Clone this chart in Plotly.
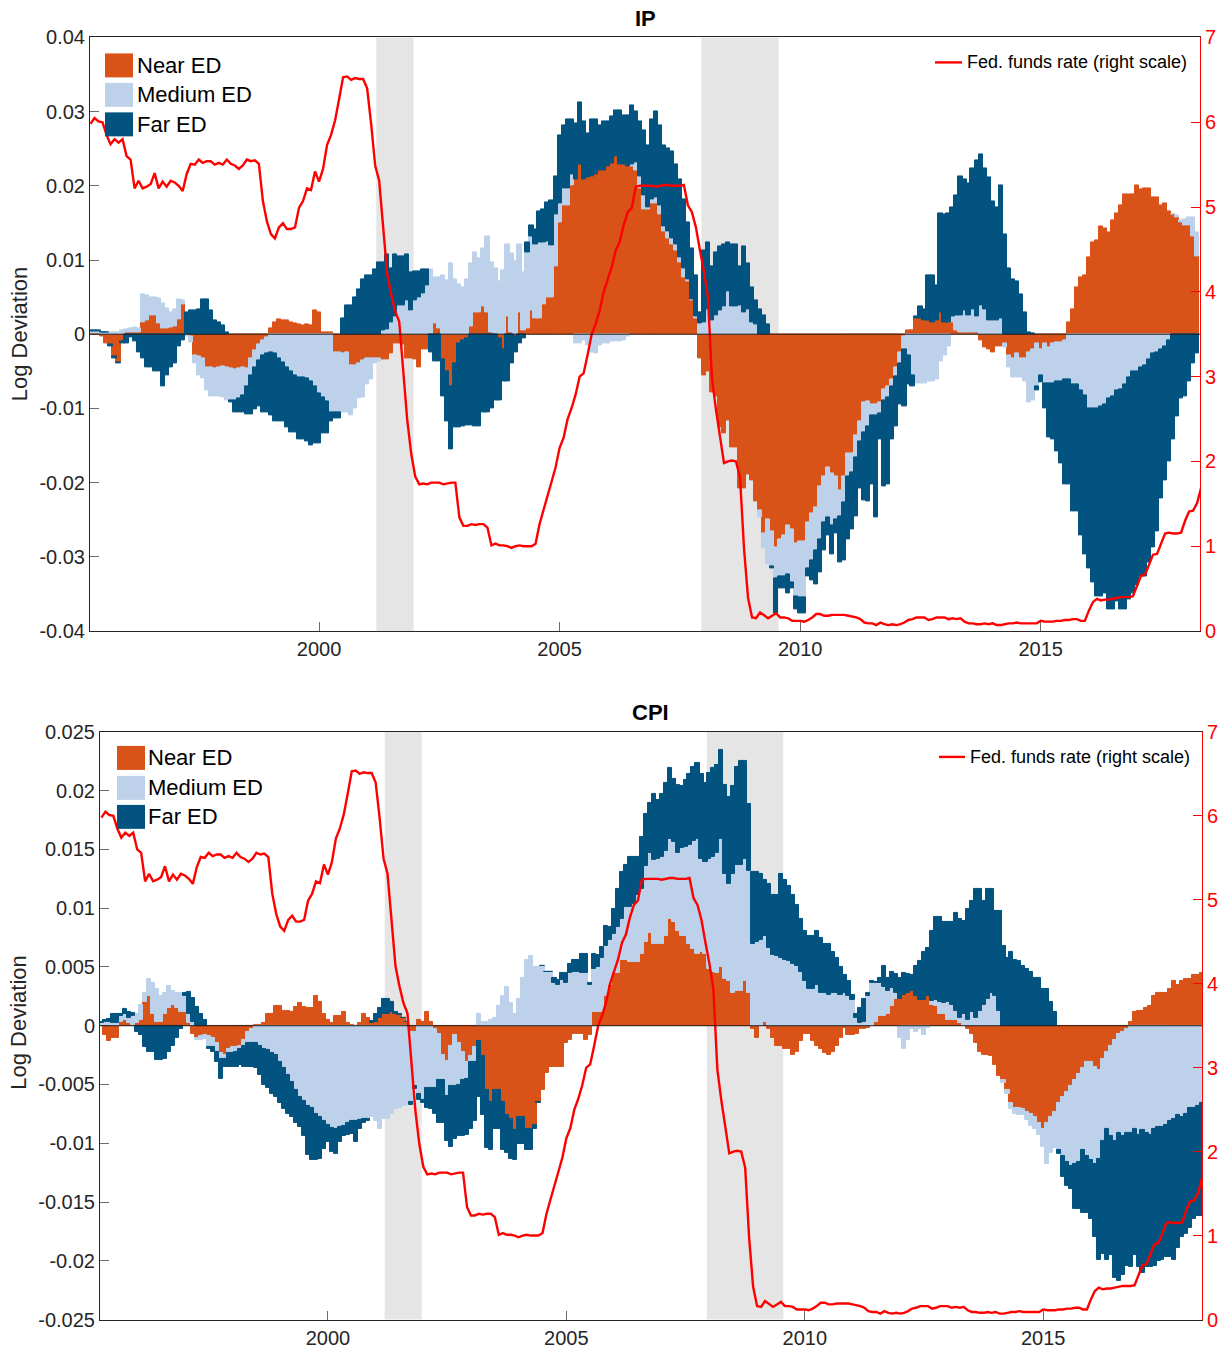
import plotly.graph_objects as go

W, H = 1229, 1354
# vertical extent of the paper area on the page (px from top)
PAPER_TOP, PAPER_BOTTOM = 9.56, 1342.5

# Monthly observations, first one is March 1995 (plotted at year + month/12)
START_YEAR, START_MONTH = 1995, 3

# Contributions to log deviation, in thousandths
ip_near = [
    0.1, 0.1, 0.1, -0.3, -1.2, -1.4, -3.0, -3.8, -1.0, 0.2, 0.3, 0.3, 0.2, 1.6, 1.8, 2.6, 2.5, 1.4, 0.8, 0.8, 0.9, 1.0,
    2.0, 4.0, 0.0, -0.3, -2.9, -3.0, -3.2, -4.5, -4.5, -4.6,
    -4.5, -4.4, -4.5, -4.6, -4.7, -4.6, -4.5, -4.6, -3.2, -2.2,
    -1.4, -0.8, -0.4, 0.8, 1.6, 2.0, 1.9, 1.8, 1.6, 1.5,
    1.3, 1.2, 1.3, 1.2, 3.2, 3.0, 0.3, 0.3, 0.2, -2.4,
    -2.4, -2.6, -2.5, -4.2, -4.2, -4.0, -3.5, -3.3, -3.2, -3.2,
    -3.2, -3.4, -3.4, -2.6, -1.3, -1.3, -1.4, -3.2, -3.2, -3.4,
    -4.5, -2.0, -2.1, 0.0, 1.5, 0.8, -3.4, -5.0, -7.1, -3.9,
    -1.3, -0.8, -0.5, 1.0, 2.9, 2.9, 3.7, 2.9, 0.3, 0.0,
    -0.5, -2.1, 2.4, 0.3, -0.3, 2.9, 0.5, 0.8, 3.2, 2.1,
    2.1, 4.0, 5.0, 5.0, 9.2,
    15.0, 17.4, 17.4, 20.0, 20.8, 22.9, 20.8, 21.1, 21.3, 21.6,
    22.1, 22.1, 22.6, 23.0, 24.0, 22.9, 22.9, 22.6, 22.6, 22.1,
    19.7, 16.8, 16.8, 17.6, 17.6, 16.1, 13.9, 12.9, 12.1, 11.3,
    9.7, 7.6, 7.1, 4.5, 2.1, -3.2, -5.5, -5.0, -7.9, -8.4,
    -12.6, -13.4, -11.6, -15.3, -15.3, -20.8, -20.8, -18.9, -19.7, -22.6,
    -23.7, -26.8, -25.0, -26.6, -28.7, -27.6, -27.1, -25.8, -26.3, -28.2,
    -27.9, -27.9, -25.3, -24.2, -23.4, -20.5, -19.2, -17.9, -18.7, -19.2,
    -21.1, -19.2, -16.1, -16.1, -13.7, -11.8, -9.2, -9.0, -9.5, -9.5,
    -9.2, -7.4, -7.0, -6.1, -4.5, -2.4, -0.3, 0.5, 0.5, 2.1,
    2.1, 1.8, 1.8, 1.6, 1.8,
    2.9, 1.6, 1.6, 1.6, 0.5, 0.3, 0.3, 0.2, 0.2, 0.3,
    -0.8, -1.8, -2.1, -2.4, -1.6, -1.6, -1.3, -2.9, -3.2, -2.6,
    -3.2, -3.2, -2.4, -2.1, -1.3, -2.1, -1.3, -1.8, -1.3, -1.1,
    -1.1, -0.8, 1.6, 3.4, 6.3, 7.6, 7.9, 10.4, 12.4, 12.6,
    14.5, 14.2, 13.7, 15.3, 16.3, 17.4, 18.8, 18.9, 18.8, 20.1,
    19.5, 19.6, 19.7, 18.4, 18.4, 17.4, 17.6, 16.5, 16.1, 15.8,
    15.1, 14.7, 14.7, 13.2, 10.5,
]
ip_medium = [
    0.3, 0.3, 0.3, 0.3, 0.2, 0.2, 0.2, 0.3, 0.5, 0.5, 0.5, 0.6, 0.6, 3.7, 3.4, 2.4, 2.5, 3.4, 3.4, 2.7, 2.1, 2.4,
    2.7, 0.5, -0.3, -0.8, -1.1, -2.5, -2.8, -3.1, -3.9, -3.8,
    -3.9, -4.1, -4.4, -4.3, -4.2, -4.0, -3.7, -2.4, -2.3, -2.3,
    -2.1, -2.0, -2.2, -2.5, -2.6, -3.2, -3.8, -4.5, -5.0, -5.5,
    -5.8, -5.8, -6.0, -6.3, -7.0, -8.0, -8.5, -9.0, -10.5, -8.1,
    -8.2, -7.9, -8.1, -6.8, -5.8, -4.7, -5.0, -3.5, -2.9, -0.7,
    -0.5, 0.5, 0.6, 1.6, 2.4, 3.9, 3.9, 4.5, 3.2, 4.5,
    5.0, 5.5, 6.6, 8.7, 6.2, 6.9, 7.9, 7.2, 9.5, 7.4,
    6.7, 6.3, 7.4, 8.5, 8.1, 7.3, 7.9, 10.3, 9.4, 8.9,
    7.1, 8.6, 9.7, 10.6, 9.8, 9.2, 7.8, 10.2, 10.0, 10.0,
    10.3, 8.4, 7.5, 7.0, 6.9,
    2.6, 2.3, 2.3, 1.6, -1.3, -1.3, -0.8, -1.5, -2.4, -2.6,
    -1.5, -1.2, -1.3, -1.0, -1.0, -1.0, -0.8, -0.3, 0.3, 1.0,
    1.5, 1.9, 0.3, 0.6, 0.8, 1.3, 0.6, 1.0, 0.8, 0.8,
    0.6, 1.3, 0.3, 0.2, 0.3, 1.5, 1.6, 3.4, 1.8, 2.5,
    3.2, 3.7, 5.8, 3.7, 3.7, 3.9, 2.9, 3.4, 1.6, 1.3,
    -1.0, -2.1, -6.0, -4.7, -4.2, -5.0, -5.5, -6.6, -7.1, -7.1,
    -7.6, -7.6, -6.3, -6.3, -5.8, -7.1, -6.1, -6.8, -7.1, -5.8,
    -3.5, -3.5, -3.1, -2.5, -2.9, -2.7, -4.0, -3.4, -1.5, -1.5,
    -1.5, -1.5, -1.5, -1.0, -1.2, -1.5, -1.8, -2.9, -5.5, -6.6,
    -6.6, -6.6, -6.3, -6.3, -6.1,
    -3.7, -2.9, -1.6, 0.8, 2.1, 2.3, 2.9, 2.4, 3.2, 2.1,
    3.9, 3.4, 1.8, 1.8, 1.8, 2.1, -0.5, -1.6, -2.6, -3.2,
    -2.6, -3.1, -6.8, -6.8, -5.8, -3.4, -5.3, -4.8, -5.3, -5.2,
    -5.2, -5.3, -6.1, -6.8, -6.8, -7.6, -8.2, -10.0, -10.0, -10.0,
    -9.7, -9.5, -8.7, -8.4, -7.6, -7.4, -6.8, -5.8, -5.0, -5.0,
    -4.5, -4.2, -3.4, -2.6, -2.4, -2.1, -1.6, -0.8, 0.1, 0.2,
    0.3, 0.8, 1.0, 2.5, 3.2,
]
ip_far = [
    0.1, 0.1, 0.1, 0.0, 0.0, -0.3, -0.3, -0.2, -0.3, -1.3, -0.4, -1.0, -2.4, -3.2, -4.5, -4.5, -5.0, -5.0, -7.1, -5.5, -4.5, -4.0,
    -1.6, -0.8, 3.0, 3.2, 3.2, 3.4, 4.7, 4.7, 3.2, 1.8,
    1.6, 1.2, 0.3, -0.3, -1.6, -1.9, -2.3, -3.8, -5.3, -5.7,
    -6.2, -7.7, -7.9, -8.5, -9.2, -8.6, -8.0, -8.0, -8.2, -7.7,
    -8.4, -8.4, -8.5, -8.7, -7.7, -6.7, -4.9, -4.4, -1.3, -0.8,
    -0.7, 2.1, 3.9, 3.9, 5.0, 6.0, 7.4, 7.9, 7.9, 8.7,
    9.7, 9.2, 10.1, 7.3, 8.3, 6.6, 6.6, 6.2, 5.1, 4.0,
    3.5, 3.2, 2.2, -2.4, -3.7, -3.7, -5.0, -6.8, -8.4, -8.7,
    -11.3, -11.6, -11.8, -12.3, -12.4, -12.4, -10.5, -10.5, -10.0, -8.9,
    -8.4, -4.2, -6.3, -3.9, -2.1, -1.3, -0.5, 1.4, 1.5, 2.0,
    4.2, 4.4, 5.3, 6.0, 5.2,
    9.2, 8.5, 9.2, 7.3, 7.6, 8.4, 7.9, 6.0, 7.6, 7.3,
    6.1, 6.6, 6.1, 6.3, 6.1, 7.2, 6.6, 6.9, 7.9, 6.9,
    7.5, 8.7, 8.4, 10.7, 11.6, 10.8, 11.0, 11.1, 11.8, 10.8,
    10.5, 9.3, 7.6, 6.8, 5.5, 1.5, 9.7, 9.0, 7.4, 8.5,
    8.6, 8.4, 6.6, 8.4, 8.4, 5.3, 8.9, 6.1, 4.7, 3.2,
    3.4, 2.6, 1.3, -0.2, -4.7, -1.6, -1.6, -2.6, -0.8, -1.8,
    -2.1, -2.1, -1.0, -2.7, -4.5, -4.5, -3.9, -2.4, -3.9, -1.8,
    -6.2, -7.8, -8.4, -7.7, -7.9, -6.3, -9.2, -10.2, -9.3, -13.7,
    -3.5, -11.6, -11.8, -7.1, -6.7, -5.6, -7.6, -3.9, -1.6, 0.3,
    1.6, 1.6, 6.1, 6.3, 4.8,
    13.4, 14.5, 14.7, 14.7, 16.1, 18.7, 17.6, 17.7, 19.0, 21.0,
    20.3, 19.0, 19.3, 16.1, 15.3, 17.9, 13.4, 8.9, 7.4, 7.1,
    5.3, 2.9, 0.2, 0.1, -0.5, -1.0, -3.4, -7.3, -7.6, -9.5,
    -11.1, -14.2, -14.2, -17.1, -17.1, -19.5, -21.5, -21.6, -23.4, -25.3,
    -25.6, -25.5, -28.4, -28.7, -28.4, -29.7, -30.3, -30.0, -30.0, -28.9,
    -28.1, -28.4, -27.4, -26.1, -24.2, -20.0, -18.1, -16.3, -14.2, -11.1,
    -8.7, -8.4, -6.3, -3.9, -2.6,
]

cpi_near = [
    0.0, -0.8, -1.3, -1.0, -1.0, 0.3, 0.5, 0.2, 0.1, 0.2,
    0.5, 2.0, 2.5, 1.0, 0.3, 0.3, 1.0, 1.5, 1.8, 1.5,
    1.2, 1.2, 0.2, -0.7, -1.0, -0.9, -0.8, -0.9, -1.0, -1.5,
    -2.3, -2.5, -2.0, -1.8, -1.8, -1.7, -1.2, -0.5, -0.3, 0.1,
    0.1, 0.2, 1.0, 1.0, 1.7, 1.7, 1.3, 1.3, 1.2, 1.6,
    1.9, 1.6, 1.5, 1.5, 2.5, 2.0, 1.0, 0.5, 0.2, 0.8,
    0.8, 1.2, 0.2, 0.1, 0.0, 0.2, 1.0, 0.7, 0.2, 0.3,
    0.7, 1.0, 1.0, 1.2, 1.0, 0.9, 0.7, 0.3, -0.5, -0.5,
    0.5, 0.3, 1.2, 0.3, -0.3, -0.7, -2.5, -3.0, -1.7, -0.8,
    -1.5, -2.2, -3.1, -2.6, -1.8, -1.3, -2.6, -5.5, -6.5, -5.5,
    -5.5, -6.5, -7.6, -7.9, -8.9, -7.8, -7.8, -8.8, -8.8, -8.4,
    -6.5, -5.5, -4.0, -3.5, -3.5, -3.5, -3.5, -1.5, -1.2, -0.7,
    -0.7, -0.7, -1.2, -0.8, 1.2, 1.2, 1.2, 2.5, 3.5, 4.5,
    4.5, 5.6, 5.6, 5.4, 5.4, 5.4, 6.1, 7.1, 7.9, 7.0,
    7.0, 7.0, 7.6, 9.1, 8.8, 8.1, 7.6, 7.6, 7.0, 6.5,
    6.1, 6.3, 6.1, 4.8, 4.6, 4.5, 5.0, 4.0, 3.8, 2.8,
    3.0, 3.0, 3.8, 2.8, -0.3, -1.0, 0.0, 0.3, -0.3, -1.0,
    -1.7, -1.7, -2.0, -2.0, -2.5, -2.2, -1.3, -0.7, -0.7, -1.3,
    -1.7, -2.0, -2.3, -2.5, -2.2, -1.7, -1.0, -0.2, -0.8, -0.8,
    -0.7, -0.3, -0.3, -0.2, 0.0, 0.3, 0.8, 0.8, 1.0, 1.7,
    2.3, 2.3, 2.6, 2.8, 3.0, 2.5, 2.2, 2.2, 2.5, 1.8,
    1.7, 1.0, 1.0, 0.5, 0.5, 0.5, 0.2, 0.0, -0.3, -0.7,
    -1.5, -2.2, -2.5, -2.5, -2.6, -3.3, -4.3, -4.6, -5.5, -6.6,
    -7.0, -7.0, -7.1, -7.3, -7.5, -7.8, -8.3, -8.8, -8.3, -7.8,
    -7.3, -6.6, -6.1, -5.6, -5.1, -4.6, -4.1, -3.6, -3.1, -3.1,
    -3.5, -3.8, -2.8, -2.2, -1.7, -1.2, -0.7, -0.5, -0.3, 0.3,
    1.2, 1.3, 1.3, 1.5, 1.7, 2.5, 2.8, 2.8, 2.8, 3.1,
    3.8, 3.5, 3.8, 4.0, 4.0, 4.3, 4.3, 4.5,
]
cpi_medium = [
    0.2, 0.3, 0.3, 0.2, 0.2, 0.5, 0.5, 0.5, 0.7, 0.8,
    1.3, 0.8, 1.5, 2.6, 2.8, 2.2, 1.8, 1.9, 1.2, 1.3,
    1.6, 1.3, 0.8, 0.3, -0.2, -0.3, -0.3, -0.9, -0.8, -0.7,
    -0.5, -0.3, -0.3, -0.5, -0.4, -0.3, -0.5, -1.0, -1.2, -1.5,
    -1.7, -2.0, -2.1, -2.3, -2.5, -3.1, -3.6, -4.2, -4.8, -5.5,
    -6.1, -6.4, -6.8, -7.0, -7.5, -7.8, -8.1, -8.4, -8.7, -8.8,
    -8.6, -8.5, -8.3, -8.1, -8.1, -8.0, -7.9, -7.9, -7.8, -8.1,
    -8.8, -7.9, -7.9, -7.5, -7.1, -7.0, -6.8, -6.7, -6.0, -4.6,
    -5.8, -6.3, -5.3, -5.3, -5.0, -3.9, -2.1, -3.0, -3.4, -4.3,
    -3.5, -2.4, -1.4, -0.5, -1.3, 1.0, 0.3, 0.3, 0.5, 0.7,
    1.7, 2.5, 3.3, 1.9, 1.0, 2.3, 4.1, 5.6, 5.9, 5.0,
    5.0, 5.1, 4.6, 4.6, 3.6, 3.5, 3.9, 3.6, 4.5, 4.6,
    4.6, 4.5, 4.5, 3.5, 3.6, 3.8, 4.6, 4.3, 3.8, 3.3,
    3.9, 3.5, 4.5, 4.7, 5.0, 5.7, 5.5, 6.5, 6.8, 7.1,
    7.2, 7.4, 7.3, 6.8, 6.8, 6.6, 7.5, 7.6, 8.4, 9.2,
    9.8, 7.9, 7.8, 9.4, 9.8, 10.2, 10.9, 8.9, 8.3, 10.1,
    10.7, 10.7, 10.4, 10.4, 7.0, 7.1, 7.3, 7.3, 6.6, 6.0,
    5.9, 5.8, 5.6, 5.5, 5.3, 5.1, 4.6, 3.8, 3.1, 3.1,
    3.5, 2.8, 2.8, 2.6, 2.8, 2.8, 2.6, 2.8, 2.5, 2.2,
    0.7, 0.2, 0.3, 2.5, 3.6, 3.3, 2.8, 2.5, 2.0, 1.5,
    0.5, -1.0, -2.0, -1.2, -0.3, -0.5, -0.3, -0.8, -0.2, 0.3,
    0.5, 1.0, 0.9, 1.5, 1.3, 0.8, 0.5, 1.0, 0.5, 1.2,
    0.7, 1.3, 1.8, 2.3, 2.8, 2.5, 1.3, -0.3, -0.3, -0.5,
    -0.5, -0.6, -0.5, -0.7, -1.0, -1.0, -1.0, -1.5, -3.5, -3.0,
    -3.1, -4.0, -5.0, -6.0, -6.8, -7.2, -7.5, -7.0, -8.0, -8.3,
    -8.3, -7.5, -7.0, -6.6, -7.7, -8.6, -8.4, -8.9, -8.8, -9.1,
    -8.8, -9.3, -8.9, -9.1, -9.3, -8.8, -8.6, -8.6, -8.4, -8.1,
    -7.9, -7.6, -7.8, -7.5, -7.0, -7.0, -6.8, -6.6,
]
cpi_far = [
    0.1, 0.2, 0.3, 0.8, 0.8, 0.2, 0.4, 0.5, 0.3, -0.5,
    -0.8, -1.8, -2.2, -2.2, -2.9, -2.9, -2.8, -2.2, -1.7, -1.0,
    -0.3, 0.3, 1.9, 2.1, 1.6, 1.0, 0.5, -0.2, -0.4, -0.9,
    -1.7, -0.7, -1.2, -1.2, -1.3, -1.3, -1.8, -2.0, -2.0, -2.1,
    -2.5, -3.0, -3.2, -3.5, -3.6, -3.5, -3.5, -3.3, -3.0, -2.8,
    -2.5, -3.0, -4.2, -4.4, -3.9, -3.5, -2.4, -1.5, -2.0, -2.1,
    -1.3, -0.9, -1.0, -1.1, -1.8, -0.8, -0.4, -0.2, 0.2, 0.7,
    0.8, 1.3, 1.3, 0.8, 0.2, 0.1, 0.0, 0.0, -0.2, -0.3,
    -0.5, -0.3, -1.7, -1.8, -2.2, -3.7, -3.7, -3.8, -5.2, -4.5,
    -4.4, -4.8, -4.8, -5.7, -5.0, -4.8, -5.0, -4.9, -4.1, -3.3,
    -3.3, -4.1, -3.2, -3.4, -2.5, -2.3, -2.3, -1.8, -1.8, -0.4,
    -0.1, 0.0, 0.0, 0.0, 0.5, 0.4, 0.6, 0.9, 0.8, 1.0,
    1.0, 1.6, 1.6, 0.1, 1.3, 1.0, 0.9, 1.7, 1.1, 2.1,
    3.2, 4.0, 3.6, 4.3, 4.0, 3.3, 4.5, 4.4, 4.3, 5.6,
    5.0, 5.3, 5.8, 6.0, 5.4, 5.8, 5.3, 5.7, 6.0, 6.3,
    6.5, 7.2, 6.8, 7.3, 7.5, 7.5, 7.6, 7.6, 7.4, 7.5,
    8.3, 8.8, 8.3, 5.7, 6.1, 6.0, 5.6, 4.8, 5.5, 5.1,
    5.2, 7.1, 6.8, 6.4, 5.8, 5.2, 4.5, 4.3, 4.5, 4.5,
    4.6, 4.7, 4.2, 4.4, 3.5, 3.0, 2.4, 1.5, 1.3, 0.4,
    0.3, 1.3, 2.0, 0.3, 0.2, 0.1, 0.5, 1.8, 1.1, 1.4,
    1.6, 1.8, 1.9, 1.6, 1.3, 2.6, 3.3, 4.1, 4.1, 6.0,
    7.1, 7.3, 6.9, 6.8, 7.0, 8.3, 8.4, 7.9, 9.4, 9.4,
    10.9, 10.3, 8.8, 9.3, 8.8, 7.3, 8.5, 6.8, 5.8, 6.3,
    5.6, 5.5, 5.1, 4.8, 4.6, 4.1, 4.1, 3.1, 3.1, 2.0,
    1.2, -0.3, -1.8, -2.0, -2.0, -3.8, -4.0, -5.3, -4.8, -5.0,
    -6.2, -8.6, -9.6, -11.1, -10.1, -11.7, -12.6, -11.8, -11.3, -11.4,
    -10.7, -11.2, -12.1, -11.4, -11.2, -11.6, -11.4, -11.3, -11.3, -11.6,
    -12.0, -11.3, -10.2, -10.2, -10.2, -9.4, -9.4, -9.6,
]

# Effective federal funds rate, percent, March 1995 onwards
fed_funds = [
    5.98, 6.05, 6.01, 6.00, 5.85, 5.74, 5.80, 5.76, 5.80, 5.60,
    5.56, 5.22, 5.31, 5.22, 5.24, 5.27, 5.40, 5.22, 5.30, 5.24, 5.31, 5.29,
    5.25, 5.19, 5.39, 5.51, 5.50, 5.56, 5.52, 5.54, 5.54, 5.50, 5.52, 5.50,
    5.56, 5.51, 5.49, 5.45, 5.49, 5.56, 5.54, 5.55, 5.51, 5.07, 4.83, 4.68,
    4.63, 4.76, 4.81, 4.74, 4.74, 4.76, 4.99, 5.07, 5.22, 5.20, 5.42, 5.30,
    5.45, 5.73, 5.85, 6.02, 6.27, 6.53, 6.54, 6.50, 6.52, 6.51, 6.51, 6.40,
    5.98, 5.49, 5.31, 4.80, 4.21, 3.97, 3.77, 3.65, 3.07, 2.49, 2.09, 1.82,
    1.73, 1.74, 1.73, 1.75, 1.75, 1.75, 1.73, 1.74, 1.75, 1.75, 1.34, 1.24,
    1.24, 1.26, 1.25, 1.26, 1.26, 1.22, 1.01, 1.03, 1.01, 1.01, 1.00, 0.98,
    1.00, 1.01, 1.00, 1.00, 1.00, 1.03, 1.26, 1.43, 1.61, 1.76, 1.93, 2.16,
    2.28, 2.50, 2.63, 2.79, 3.00, 3.04, 3.26, 3.50, 3.62, 3.78, 4.00, 4.16,
    4.29, 4.49, 4.59, 4.79, 4.94, 4.99, 5.24, 5.25, 5.25, 5.25, 5.25, 5.24,
    5.25, 5.26, 5.26, 5.25, 5.25, 5.25, 5.26, 5.02, 4.94, 4.76, 4.49, 4.24,
    3.94, 2.98, 2.61, 2.28, 1.98, 2.00, 2.01, 2.00, 1.81, 0.97, 0.39, 0.16,
    0.15, 0.22, 0.18, 0.15, 0.18, 0.21, 0.16, 0.16, 0.15, 0.12, 0.12, 0.12,
    0.11, 0.13, 0.16, 0.20, 0.20, 0.18, 0.18, 0.19, 0.19, 0.19, 0.19, 0.18,
    0.17, 0.16, 0.14, 0.10, 0.09, 0.09, 0.07, 0.10, 0.08, 0.07, 0.08, 0.07,
    0.08, 0.10, 0.13, 0.14, 0.16, 0.16, 0.16, 0.13, 0.14, 0.16, 0.16, 0.16,
    0.14, 0.15, 0.14, 0.15, 0.11, 0.09, 0.09, 0.08, 0.08, 0.09, 0.08, 0.09,
    0.07, 0.07, 0.08, 0.09, 0.09, 0.10, 0.09, 0.09, 0.09, 0.09, 0.09, 0.12,
    0.11, 0.11, 0.11, 0.12, 0.12, 0.13, 0.13, 0.14, 0.14, 0.12, 0.12, 0.24,
    0.34, 0.38, 0.36, 0.37, 0.37, 0.38, 0.39, 0.40, 0.40, 0.40, 0.41, 0.54,
    0.65, 0.66, 0.79, 0.90, 0.91, 1.04, 1.15, 1.16, 1.15, 1.15, 1.16, 1.30,
    1.41, 1.42, 1.51, 1.69,
]

# NBER recessions (decimal years)
recessions = [(2001.19, 2001.965), (2007.946, 2009.55)]

assert len(ip_near) == len(ip_medium) == len(ip_far)
assert len(cpi_near) == len(cpi_medium) == len(cpi_far)

NEAR_C, MED_C, FAR_C, RED = "#D95319", "#BDD1EA", "#02537F", "#FF0000"
TXT = "#262626"
FONT = "Liberation Sans, Arial, Helvetica, sans-serif"


def months(n):
    return [START_YEAR + (START_MONTH + k) / 12 for k in range(n)]


def fx(p):
    return p / W


def fy(p):
    return 1 - (p - PAPER_TOP) / (PAPER_BOTTOM - PAPER_TOP)


def tick_label(v):
    s = f"{v:.3f}".rstrip("0").rstrip(".")
    return "0" if s in ("0", "-0", "") else s


panels = [
    dict(title="IP", near=ip_near, med=ip_medium, far=ip_far,
         xa="x", ya="y", yr="y2", box=(90, 1200, 36, 630),
         xrange=[1995.24, 2018.31], ylim=0.04, ystep=0.01,
         legend_left=(105, 136, [64, 93.5, 123]), legend_right=(935, 962, 965, 61),
         ylabel_y=333),
    dict(title="CPI", near=cpi_near, med=cpi_medium, far=cpi_far,
         xa="x2", ya="y3", yr="y4", box=(100, 1202, 731, 1319),
         xrange=[1995.22, 2018.33], ylim=0.025, ystep=0.005,
         legend_left=(117, 147, [757, 787, 816]), legend_right=(939, 965, 968, 756),
         ylabel_y=1022),
]

fig = go.Figure()
shapes, annotations = [], []
layout_axes = {}

for p in panels:
    n = len(p["near"])
    t = months(n)
    for vals, col, name in ((p["near"], NEAR_C, "Near ED"),
                            (p["med"], MED_C, "Medium ED"),
                            (p["far"], FAR_C, "Far ED")):
        fig.add_trace(go.Bar(
            x=t, y=[v / 1000 for v in vals], width=1.04 / 12, name=name,
            marker=dict(color=col, line=dict(color=col, width=1.0)),
            xaxis=p["xa"], yaxis=p["ya"], showlegend=False,
        ))
    fig.add_trace(go.Scatter(
        x=months(len(fed_funds)), y=fed_funds, mode="lines",
        line=dict(color=RED, width=2.4), name="Fed. funds rate (right scale)",
        xaxis=p["xa"], yaxis=p["yr"], showlegend=False,
    ))

    left, right, top, bottom = p["box"]
    xkey = "xaxis" if p["xa"] == "x" else "xaxis" + p["xa"][1:]
    ykey = "yaxis" + ("" if p["ya"] == "y" else p["ya"][1:])
    yrkey = "yaxis" + p["yr"][1:]

    nt = int(round(p["ylim"] / p["ystep"]))
    yvals = [round(i * p["ystep"], 4) for i in range(-nt, nt + 1)]

    layout_axes[xkey] = dict(
        domain=[fx(left), fx(right)], anchor=p["ya"], range=p["xrange"],
        tickmode="array", tickvals=[2000, 2005, 2010, 2015],
        ticktext=["2000", "2005", "2010", "2015"],
        ticks="inside", ticklen=9, tickwidth=1, tickcolor="#6e6e6e",
        showline=True, linecolor=TXT, linewidth=1, mirror=True,
        showgrid=False, zeroline=False,
        tickfont=dict(size=20, color=TXT, family=FONT),
    )
    layout_axes[ykey] = dict(
        domain=[fy(bottom), fy(top)], anchor=p["xa"],
        range=[-p["ylim"], p["ylim"]],
        tickmode="array", tickvals=yvals, ticktext=[tick_label(v) for v in yvals],
        ticks="inside", ticklen=9, tickwidth=1, tickcolor="#6e6e6e",
        showline=True, linecolor=TXT, linewidth=1, mirror=False,
        showgrid=False, zeroline=False,
        tickfont=dict(size=20, color=TXT, family=FONT),
    )
    layout_axes[yrkey] = dict(
        overlaying=p["ya"], anchor=p["xa"], side="right", range=[0, 7],
        tickmode="array", tickvals=list(range(8)), ticktext=[str(i) for i in range(8)],
        ticks="inside", ticklen=9, tickwidth=1, tickcolor=RED,
        showline=True, linecolor=RED, linewidth=1,
        showgrid=False, zeroline=False,
        tickfont=dict(size=20, color=RED, family=FONT),
    )

    # recession shading
    for a, b in recessions:
        shapes.append(dict(type="rect", xref=p["xa"], yref=p["ya"] + " domain",
                           x0=a, x1=b, y0=0, y1=1, fillcolor="#E5E5E5",
                           line=dict(width=0), layer="below"))
    # bar baseline
    shapes.append(dict(type="line", xref=p["xa"], yref=p["ya"],
                       x0=p["xrange"][0], x1=p["xrange"][1], y0=0, y1=0,
                       line=dict(color="#1e1e1e", width=1), layer="above"))

    # panel title and y-axis label
    annotations.append(dict(text=f"<b>{p['title']}</b>", x=fx((left + right) / 2), y=fy(top - 19),
                            xref="paper", yref="paper", showarrow=False,
                            xanchor="center", yanchor="middle",
                            font=dict(size=22, color="#000000", family=FONT)))
    annotations.append(dict(text="Log Deviation", x=fx(19), y=fy(p["ylabel_y"]),
                            xref="paper", yref="paper", showarrow=False, textangle=-90,
                            xanchor="center", yanchor="middle",
                            font=dict(size=22, color=TXT, family=FONT)))

    # legend for the bar components
    px0, tx0, rows = p["legend_left"]
    for (col, label), cy in zip(((NEAR_C, "Near ED"), (MED_C, "Medium ED"), (FAR_C, "Far ED")), rows):
        shapes.append(dict(type="rect", xref="paper", yref="paper",
                           x0=fx(px0), x1=fx(px0 + 28), y0=fy(cy + 12), y1=fy(cy - 12),
                           fillcolor=col, line=dict(width=0), layer="above"))
        annotations.append(dict(text=label, x=fx(tx0 - 1), y=fy(cy), xref="paper", yref="paper",
                                showarrow=False, xanchor="left", yanchor="middle",
                                font=dict(size=22, color="#000000", family=FONT)))

    # legend for the policy rate line
    lx0, lx1, ltx, ly = p["legend_right"]
    shapes.append(dict(type="line", xref="paper", yref="paper",
                       x0=fx(lx0), x1=fx(lx1), y0=fy(ly), y1=fy(ly),
                       line=dict(color=RED, width=2.4), layer="above"))
    annotations.append(dict(text="Fed. funds rate (right scale)", x=fx(ltx), y=fy(ly),
                            xref="paper", yref="paper", showarrow=False,
                            xanchor="left", yanchor="middle",
                            font=dict(size=18, color="#000000", family=FONT)))

fig.update_layout(
    width=W, height=H, autosize=False,
    margin=dict(l=0, r=0, t=0, b=0),
    paper_bgcolor="white", plot_bgcolor="white",
    barmode="relative", bargap=0,
    font=dict(family=FONT, size=20, color=TXT),
    shapes=shapes, annotations=annotations,
    showlegend=False,
    **layout_axes,
)

fig.write_html("out.html")
